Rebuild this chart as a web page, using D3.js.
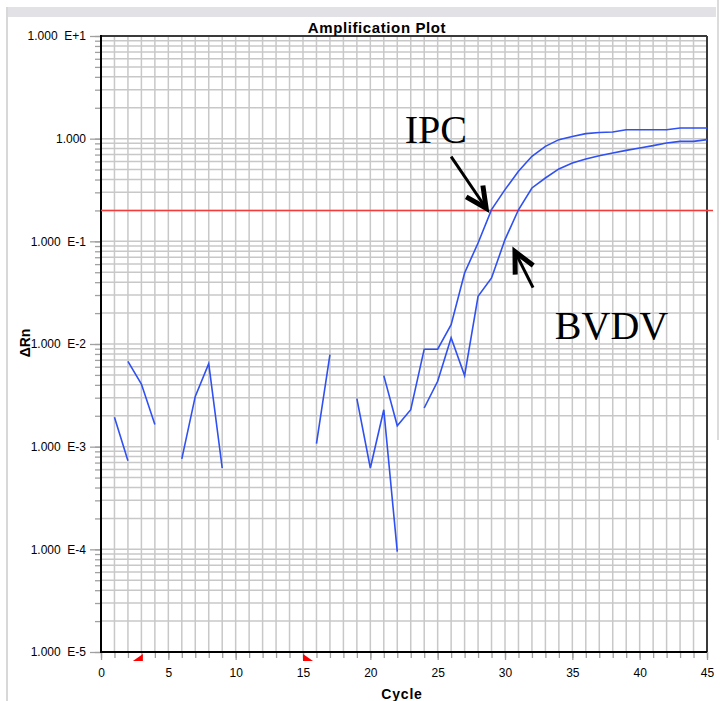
<!DOCTYPE html>
<html><head><meta charset="utf-8">
<script src="https://cdn.jsdelivr.net/npm/d3@7"></script>
<style>body{margin:0;background:#fff;overflow:hidden}</style>
</head><body><div id="chart"></div>
<script>
// ---------------- data ----------------
const cycles = d3.range(1, 46);
const ipc = [1.93e-3, 7.3e-4, null, null, null, null, null, null, null, null, null, null, null, null, null,
  1.07e-3, 7.87e-3, null, null, null, 4.92e-3, 1.6e-3, 2.29e-3, 8.9e-3, 8.9e-3, 1.54e-2, 4.92e-2, 9.64e-2,
  0.2035, 0.319, 0.481, 0.673, 0.841, 0.978, 1.05, 1.12, 1.15, 1.16, 1.22, 1.22, 1.22, 1.22, 1.27, 1.27, 1.27];
const bvdv = [null, 6.78e-3, 4.08e-3, 1.64e-3, null, 7.6e-4, 3.09e-3, 6.43e-3, 6.2e-4,
  null, null, null, null, null, null, null, null, null,
  2.94e-3, 6.2e-4, 2.29e-3, 9.5e-5, null, 2.38e-3, 4.33e-3, 1.15e-2, 4.92e-3, 2.91e-2, 4.4e-2,
  0.104, 0.203, 0.331, 0.414, 0.507, 0.58, 0.634, 0.683, 0.726, 0.769, 0.812, 0.855, 0.908, 0.941, 0.941, 0.978];
const threshold = 0.2;
const baselineMarks = [3, 15];
const xTickValues = [0, 5, 10, 15, 20, 25, 30, 35, 40, 45];
const yTickValues = [10, 1, 0.1, 0.01, 0.001, 0.0001, 0.00001];
const yTickLabels = ["1.000\u00A0 E+1", "1.000", "1.000\u00A0 E-1", "1.000\u00A0 E-2", "1.000\u00A0 E-3", "1.000\u00A0 E-4", "1.000\u00A0 E-5"];
const seriesNames = ["IPC", "BVDV"];

// annotations anchored in data coordinates
const annotations = [
  { label: "IPC", tx: 22.55, tv: 0.91, tail: [26.0, 0.668], tip: [28.6, 0.21] },
  { label: "BVDV", tx: 33.7, tv: 0.0113, tail: [32.08, 0.0354], tip: [30.74, 0.0794] }
];

// ---------------- layout ----------------
const W = 726, H = 701;
const x = d3.scaleLinear().domain([0, 45]).range([101, 707]);
const y = d3.scaleLog().domain([1e-5, 10]).range([652, 36]);
const svg = d3.select('#chart').append('svg').attr('width', W).attr('height', H);
const SANS = "'Liberation Sans', Arial, sans-serif";
const SERIF = "'Liberation Serif', 'Times New Roman', serif";

// window frame
svg.append('rect').attr('x', 7).attr('y', 7).attr('width', 709).attr('height', 10).attr('fill', '#e2e2e6');
svg.append('line').attr('x1', 7).attr('x2', 7).attr('y1', 7).attr('y2', H).attr('stroke', '#d8d8d8').attr('stroke-width', 2);
svg.append('line').attr('x1', 718).attr('x2', 718).attr('y1', 0).attr('y2', 440).attr('stroke', '#dcdcdc').attr('stroke-width', 2);

// grid values
const minorY = [];
for (let k = -5; k <= 0; k++) for (let m = 1; m <= 9; m++) minorY.push(m * Math.pow(10, k));
minorY.push(10);

const grid = svg.append('g');
grid.selectAll('line.h').data(minorY.filter(v => v > 1e-5 && v < 10)).join('line')
  .attr('x1', x(0)).attr('x2', x(45)).attr('y1', d => y(d)).attr('y2', d => y(d))
  .attr('stroke', '#c8c8c8').attr('stroke-width', 1.5);
grid.selectAll('line.v').data(d3.range(1, 45)).join('line')
  .attr('x1', d => x(d)).attr('x2', d => x(d)).attr('y1', y(10)).attr('y2', y(1e-5))
  .attr('stroke', '#c8c8c8').attr('stroke-width', 1.5);

// axes
const yMinorAxis = svg.append('g').attr('transform', `translate(${x(0)},0)`)
  .call(d3.axisLeft(y).tickValues(minorY).tickSize(6).tickFormat(''));
const yAxis = svg.append('g').attr('transform', `translate(${x(0)},0)`)
  .call(d3.axisLeft(y).tickValues(yTickValues).tickSize(11).tickPadding(4)
    .tickFormat((d, i) => yTickLabels[i]));
const xMinorAxis = svg.append('g').attr('transform', `translate(0,${y(1e-5)})`)
  .call(d3.axisBottom(x).tickValues(d3.range(0, 46)).tickSize(6).tickFormat(''));
const xAxis = svg.append('g').attr('transform', `translate(0,${y(1e-5)})`)
  .call(d3.axisBottom(x).tickValues(xTickValues).tickSize(8).tickPadding(8.5).tickFormat(d3.format('d')));
[yMinorAxis, yAxis, xMinorAxis, xAxis].forEach(g => {
  g.select('.domain').remove();
  g.selectAll('.tick line').attr('stroke', '#a0a0a0').attr('stroke-width', 1.3);
  g.selectAll('text').attr('font-family', SANS).attr('font-size', 12).attr('fill', '#000');
});

// plot frame
svg.append('line').attr('x1', x(0)).attr('x2', x(45)).attr('y1', y(10)).attr('y2', y(10)).attr('stroke', '#3a3a3a').attr('stroke-width', 2);
svg.append('line').attr('x1', x(45)).attr('x2', x(45)).attr('y1', y(10)).attr('y2', y(1e-5)).attr('stroke', '#3a3a3a').attr('stroke-width', 2);
svg.append('line').attr('x1', x(0)).attr('x2', x(0)).attr('y1', y(10) - 1).attr('y2', y(1e-5) + 1).attr('stroke', '#000').attr('stroke-width', 2);
svg.append('line').attr('x1', x(0)).attr('x2', x(45)).attr('y1', y(1e-5)).attr('y2', y(1e-5)).attr('stroke', '#000').attr('stroke-width', 2);

// threshold
svg.append('line').attr('x1', x(0)).attr('x2', x(45) + 6).attr('y1', y(threshold)).attr('y2', y(threshold))
  .attr('stroke', '#f23c3c').attr('stroke-width', 1.5);

// baseline markers
const by = y(1e-5);
svg.append('path').attr('fill', '#ff0000')
  .attr('d', `M${x(baselineMarks[0]) + 1.5},${by + 2}L${x(baselineMarks[0]) + 1.5},${by + 9}L${x(baselineMarks[0]) - 8.5},${by + 9}Z`);
svg.append('path').attr('fill', '#ff0000')
  .attr('d', `M${x(baselineMarks[1])},${by + 2}L${x(baselineMarks[1])},${by + 9}L${x(baselineMarks[1]) + 10},${by + 9}Z`);

// series
const line = d3.line().defined(d => d[1] != null).x(d => x(d[0])).y(d => y(d[1]));
[ipc, bvdv].forEach((s, i) => {
  svg.append('path').datum(cycles.map((c, j) => [c, s[j]]))
    .attr('class', 'series-' + seriesNames[i])
    .attr('fill', 'none').attr('stroke', '#2f50f2').attr('stroke-width', 1.6)
    .attr('stroke-linejoin', 'miter').attr('d', line);
});

// titles
svg.append('text').attr('x', 377).attr('y', 32.5).attr('text-anchor', 'middle')
  .attr('font-family', SANS).attr('font-weight', 'bold').attr('font-size', 15).attr('letter-spacing', 0.6)
  .text('Amplification Plot');
svg.append('text').attr('x', 402).attr('y', 699).attr('text-anchor', 'middle')
  .attr('font-family', SANS).attr('font-weight', 'bold').attr('font-size', 14).attr('letter-spacing', 0.8)
  .text('Cycle');
svg.append('text').attr('transform', 'translate(30,343) rotate(-90)').attr('text-anchor', 'middle')
  .attr('font-family', SANS).attr('font-weight', 'bold').attr('font-size', 14)
  .text('ΔRn');

// annotations
annotations.forEach(a => {
  svg.append('text').attr('x', x(a.tx)).attr('y', y(a.tv))
    .attr('font-family', SERIF).attr('font-size', 40).attr('fill', '#000').text(a.label);
  const tx0 = x(a.tail[0]), ty0 = y(a.tail[1]), tx1 = x(a.tip[0]), ty1 = y(a.tip[1]);
  svg.append('line').attr('x1', tx0).attr('y1', ty0).attr('x2', tx1).attr('y2', ty1)
    .attr('stroke', '#000').attr('stroke-width', 3);
  const ang = Math.atan2(ty0 - ty1, tx0 - tx1);
  const L = 23, spread = 26 * Math.PI / 180;
  const p1 = [tx1 + L * Math.cos(ang - spread), ty1 + L * Math.sin(ang - spread)];
  const p2 = [tx1 + L * Math.cos(ang + spread), ty1 + L * Math.sin(ang + spread)];
  svg.append('path').attr('d', `M${p1[0]},${p1[1]}L${tx1},${ty1}L${p2[0]},${p2[1]}`)
    .attr('fill', 'none').attr('stroke', '#000').attr('stroke-width', 5)
    .attr('stroke-linejoin', 'miter').attr('stroke-miterlimit', 10);
});
</script>
</body></html>
